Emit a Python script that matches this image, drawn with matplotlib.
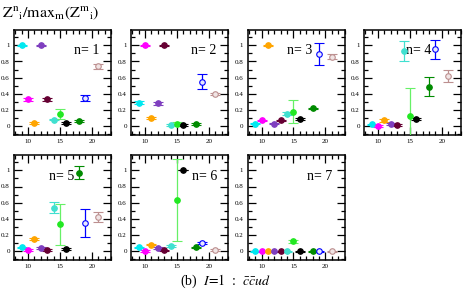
import numpy as np
import matplotlib
matplotlib.use("Agg")
import matplotlib.pyplot as plt
from matplotlib.ticker import MultipleLocator

plt.rcParams['font.family'] = ['Liberation Serif', 'DejaVu Serif']
plt.rcParams['mathtext.fontset'] = 'stix'

# posiciones (x) y colores de cada operador
xs = [9, 10, 11, 12, 13, 14, 15, 16, 18, 19, 21]
cols = ['#00e8f0', '#ff00ff', '#ffa500', '#7f3fbf', '#660033', '#40e0d0',
        '#22e822', '#000000', '#008b00', '#0000ff', '#bc8f8f']
bar_cols = ['#00e8f0', '#ff00ff', '#ffa500', '#7f3fbf', '#660033', '#40e0d0',
            '#66f066', '#000000', '#008b00', '#0000ff', '#bc8f8f']
abiertos = [False] * 9 + [True, True]

val1 = [1.0, 0.33, 0.04, 1.0, 0.33, 0.08, 0.15, 0.04, 0.065, 0.35, 0.74]
err1 = [0.005, 0.015, 0.01, 0.005, 0.015, 0.01, 0.065, 0.01, 0.01, 0.04, 0.03]
val2 = [0.29, 1.0, 0.10, 0.28, 1.0, 0.01, 0.03, 0.01, 0.025, 0.55, 0.40]
err2 = [0.02, 0.005, 0.01, 0.015, 0.005, 0.01, 0.02, 0.01, 0.01, 0.09, 0.01]
val3 = [0.03, 0.07, 1.0, 0.03, 0.07, 0.155, 0.18, 0.085, 0.22, 0.89, 0.86]
err3 = [0.01, 0.01, 0.005, 0.01, 0.01, 0.02, 0.14, 0.01, 0.01, 0.135, 0.03]
val4 = [0.02, 0.0, 0.07, 0.025, 0.01, 0.93, 0.13, 0.09, 0.49, 0.95, 0.62]
err4 = [0.01, 0.01, 0.015, 0.01, 0.01, 0.12, 0.34, 0.01, 0.115, 0.12, 0.07]
val5 = [0.045, 0.015, 0.15, 0.04, 0.015, 0.54, 0.33, 0.025, 0.97, 0.35, 0.42]
err5 = [0.01, 0.01, 0.015, 0.01, 0.01, 0.07, 0.25, 0.01, 0.08, 0.175, 0.065]
val6 = [0.045, 0.005, 0.08, 0.04, 0.01, 0.065, 0.63, 1.0, 0.045, 0.10, 0.015]
err6 = [0.01, 0.01, 0.01, 0.01, 0.01, 0.01, 0.51, 0.0, 0.01, 0.015, 0.01]
val7 = [0.0, 0.0, 0.0, 0.0, 0.0, 0.0, 0.12, 0.0, 0.0, 0.0, 0.0]
err7 = [0.005, 0.005, 0.005, 0.005, 0.005, 0.005, 0.015, 0.005, 0.005, 0.005, 0.005]

valores = [val1, val2, val3, val4, val5, val6, val7]
errores = [err1, err2, err3, err4, err5, err6, err7]
etiquetas = ['n= 1', 'n= 2', 'n= 3', 'n= 4', 'n= 5', 'n= 6', 'n= 7']
pos_texto = [0.62, 0.62, 0.41, 0.43, 0.36, 0.63, 0.61]

W, H = 463, 290
fig = plt.figure(figsize=(W / 100, H / 100), dpi=100)

lefts = [14, 131, 247.5, 364, 14, 131, 247.5]
tops = [30, 30, 30, 30, 155, 155, 155]
aw, ah = 97, 105

for k in range(7):
    ax = fig.add_axes([lefts[k] / W, 1 - (tops[k] + ah) / H, aw / W, ah / H])
    for i in range(len(xs)):
        fc = '#e8e8ff' if (abiertos[i] and i == 9) else ('#f0e4e4' if abiertos[i] else cols[i])
        ax.errorbar(xs[i], valores[k][i], yerr=errores[k][i], fmt='o',
                    color=bar_cols[i], mec=cols[i], mfc=fc, ms=4, mew=0.8,
                    elinewidth=0.9, capsize=3.6, capthick=0.9, zorder=3)
    ax.set_xlim(7.8, 23)
    ax.set_ylim(-0.11, 1.19)
    ax.xaxis.set_major_locator(MultipleLocator(5))
    ax.xaxis.set_minor_locator(MultipleLocator(1))
    ax.yaxis.set_minor_locator(MultipleLocator(0.1))
    ax.set_yticks([0, 0.2, 0.4, 0.6, 0.8, 1.0])
    ax.set_yticklabels(['0', '0.2', '0.4', '0.6', '0.8', '1'])
    ax.tick_params(which='both', direction='in', top=True, right=True,
                   width=0.9, labelsize=5, pad=3)
    ax.tick_params(which='major', length=5.5)
    ax.tick_params(which='minor', length=3)
    for s in ax.spines.values():
        s.set_linewidth(1.1)
    ax.text(pos_texto[k], 0.80, etiquetas[k], transform=ax.transAxes,
            fontsize=10, va='center', ha='left')

fig.text(2 / W, 1 - 13 / H, r'$\mathrm{Z^{n}{}_{i}/max_{m}(Z^{m}{}_{i})}$',
         fontsize=11.5, va='center', ha='left')
fig.text(226 / W, 1 - 281 / H, r'(b)  $I\!=\!1$  :  $\bar{c}\bar{c}ud$',
         fontsize=10, va='center', ha='center')

fig.savefig('out.png', dpi=100)
